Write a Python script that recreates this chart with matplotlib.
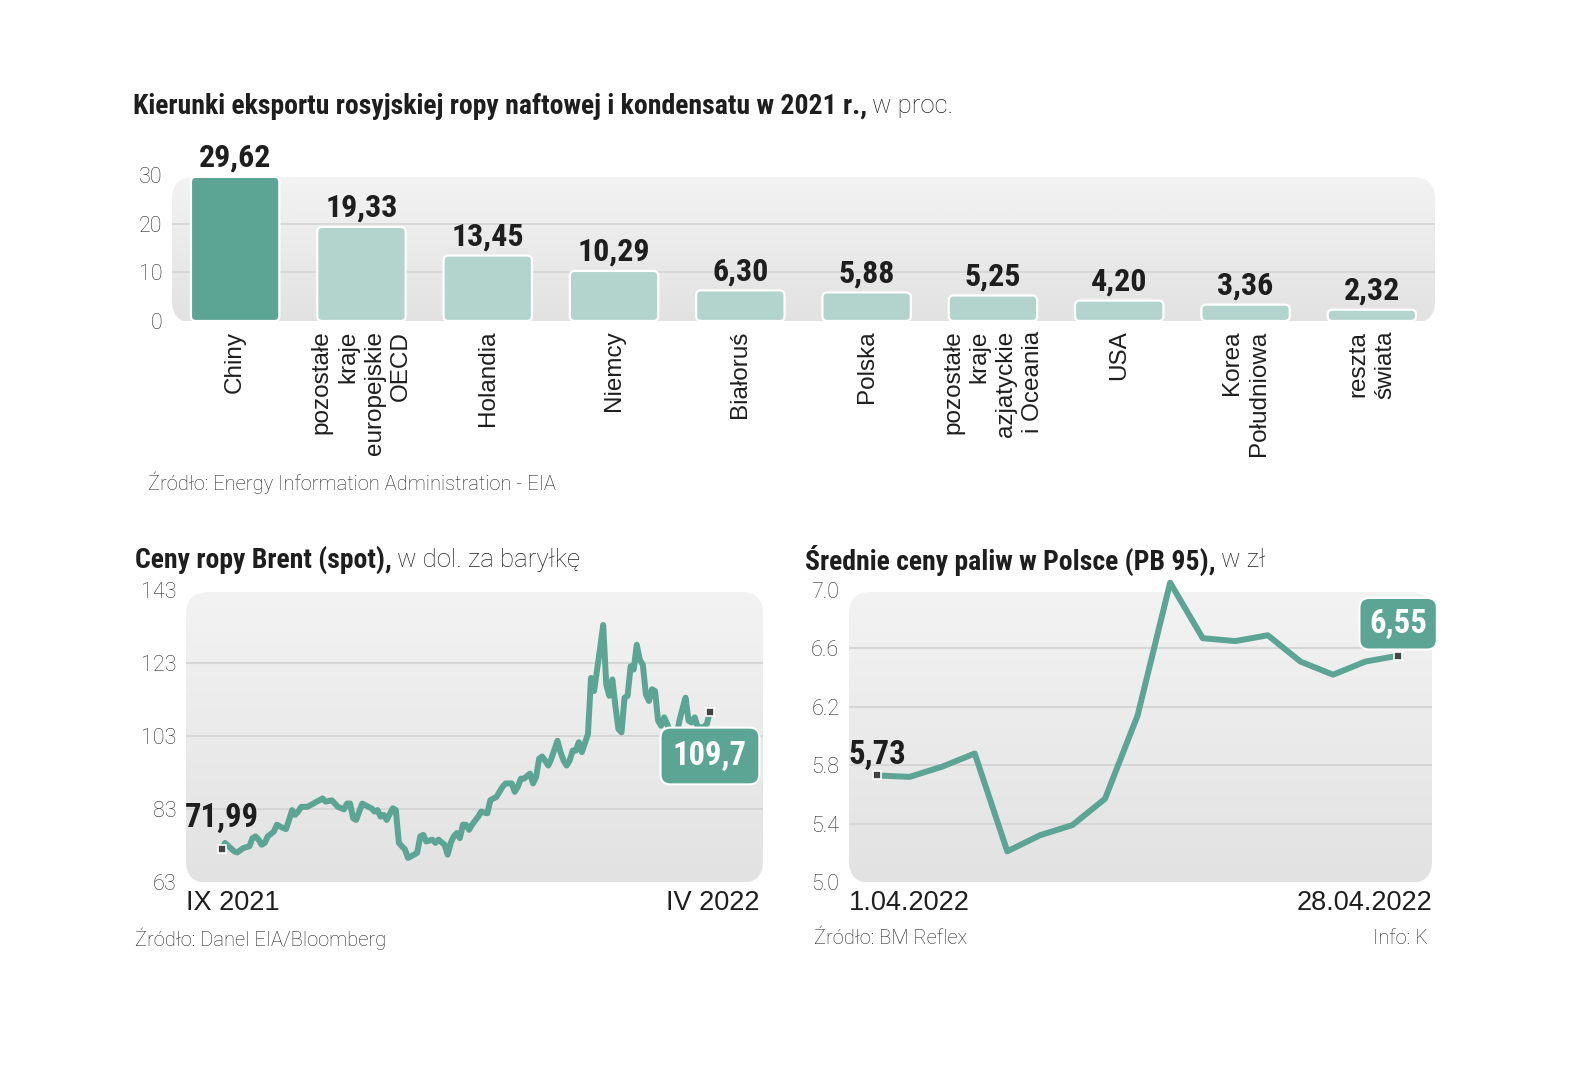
import matplotlib
matplotlib.use("Agg")
import matplotlib.pyplot as plt
import matplotlib.font_manager as fm
from matplotlib.patches import FancyBboxPatch
from matplotlib.transforms import IdentityTransform
import numpy as np

# ---------------- data ----------------
bar_categories = ["Chiny", "pozostałe\nkraje\neuropejskie\nOECD", "Holandia", "Niemcy",
                  "Białoruś", "Polska", "pozostałe\nkraje\nazjatyckie\ni Oceania", "USA",
                  "Korea\nPołudniowa", "reszta\nświata"]
bar_values = [29.62, 19.33, 13.45, 10.29, 6.30, 5.88, 5.25, 4.20, 3.36, 2.32]
bar_labels = ["29,62", "19,33", "13,45", "10,29", "6,30", "5,88", "5,25", "4,20", "3,36", "2,32"]
bar_yticks = [0, 10, 20, 30]

brent_day = [0, 1, 4, 5, 7, 9, 10, 11, 12, 13, 14, 15, 17, 18, 20, 21, 22, 23, 24, 25,
             26, 28, 30, 31, 32, 33, 34, 36, 37, 38, 40, 41, 42, 43, 44, 45, 46, 48, 49, 50,
             51, 52, 53, 54, 56, 57, 58, 60, 61, 63, 64, 65, 66, 67, 69, 70, 71, 73, 74, 75,
             76, 77, 78, 79, 80, 81, 82, 84, 85, 87, 88, 89, 90, 91, 92, 93, 95, 96, 97, 98,
             99, 101, 102, 103, 104, 105, 107, 108, 110, 111, 112, 113, 114, 115, 116, 117, 118, 120, 121, 122,
             124, 125, 126, 127, 128, 129, 130, 131, 132, 133, 134, 135, 136, 137, 138, 139, 140, 141, 142, 143,
             144, 145, 146, 147, 148, 149, 150, 151, 152, 153, 154, 155, 156, 158, 159, 160]
brent_price = [71.99, 73.7, 71.4, 71.1, 72.3, 72.8, 75.0, 75.5, 74.6, 73.2, 73.7, 75.5, 76.8, 78.7, 77.8, 77.5, 80.0, 82.7, 81.4, 82.3,
               83.6, 83.6, 84.5, 85.0, 85.4, 85.9, 85.0, 85.4, 84.5, 83.6, 82.9, 84.5, 84.5, 80.5, 80.0, 82.3, 84.5, 83.6, 83.2, 82.3,
               82.7, 80.9, 81.4, 80.0, 83.2, 82.7, 73.7, 71.9, 69.6, 70.5, 71.0, 75.5, 75.9, 74.1, 74.6, 73.7, 74.6, 73.2, 70.5, 73.7,
               75.5, 76.4, 75.0, 78.7, 78.7, 77.3, 78.7, 80.9, 82.3, 81.8, 85.4, 85.9, 86.3, 87.7, 89.1, 90.0, 90.0, 87.7, 89.1, 91.3,
               91.3, 92.7, 90.0, 91.8, 96.8, 97.4, 94.9, 96.8, 101.7, 98.6, 96.3, 94.9, 96.3, 99.0, 99.0, 101.3, 98.6, 103.5, 118.9, 115.3,
               127.1, 133.4, 117.1, 114.0, 118.5, 111.2, 104.9, 104.0, 113.5, 114.0, 122.1, 121.2, 128.0, 123.9, 122.5, 114.4, 112.6, 115.8, 115.3, 107.2,
               105.8, 108.1, 106.3, 103.5, 101.5, 103.0, 107.2, 110.5, 113.5, 107.2, 106.7, 108.1, 105.4, 105.4, 106.3, 109.7]
brent_yticks = [63, 83, 103, 123, 143]
brent_first_label = "71,99"
brent_last_label = "109,7"
brent_xlabels = ["IX 2021", "IV 2022"]

fuel_price = [5.73, 5.72, 5.79, 5.88, 5.21, 5.32, 5.39, 5.57, 6.14, 7.05, 6.67, 6.65, 6.69, 6.51, 6.42, 6.51, 6.55]
fuel_yticks = [5.0, 5.4, 5.8, 6.2, 6.6, 7.0]
fuel_first_label = "5,73"
fuel_last_label = "6,55"
fuel_xlabels = ["1.04.2022", "28.04.2022"]

# ---------------- fonts ----------------
avail = {f.name for f in fm.fontManager.ttflist}
def pick(cands):
    return [c for c in cands if c in avail] + ["DejaVu Sans"]

COND = pick(["Roboto Condensed", "Liberation Sans Narrow", "DejaVu Sans Condensed"])
REG = pick(["Liberation Sans", "Arial"])
TITLE = pick(["Roboto Condensed", "Liberation Sans Narrow", "Roboto", "Liberation Sans"])
LIGHT = pick(["Roboto", "Lato", "Open Sans"])

TEAL = "#5ca594"
LTEAL = "#b3d4cd"
DARK = "#1e1e1e"
GRID = "#d6d6d6"

W, H = 1585, 1080
fig = plt.figure(figsize=(W / 100, H / 100), dpi=100)
fig.patch.set_facecolor("white")

def px_axes(x0, y0_top, x1, y1_bot):
    return fig.add_axes([x0 / W, 1 - y1_bot / H, (x1 - x0) / W, (y1_bot - y0_top) / H])

def rounded_bg(ax, x0, y_top, x1, y_bot, r=22):
    patch = FancyBboxPatch((x0, H - y_bot), x1 - x0, y_bot - y_top,
                           boxstyle=f"round,pad=0,rounding_size={r}",
                           transform=IdentityTransform(), facecolor="none", edgecolor="none")
    fig.add_artist(patch)
    grad = np.linspace(0, 1, 256).reshape(-1, 1)
    im = ax.imshow(grad, cmap=matplotlib.colors.LinearSegmentedColormap.from_list("g", ["#f3f3f3", "#e2e2e2"]),
                   extent=[0, 1, 0, 1], transform=ax.transAxes, aspect="auto", zorder=0,
                   origin="upper")
    im.set_clip_path(patch)
    im.set_clip_on(True)

def style_axes(ax):
    ax.patch.set_visible(False)
    for s in ax.spines.values():
        s.set_visible(False)
    ax.tick_params(length=0, labelsize=15.5, labelcolor="#2a2a2a", pad=7)
    for lab in ax.get_yticklabels():
        lab.set_family(LIGHT)
        lab.set_fontweight("light")

def title_two(x, y, bold, light, size=20, size2=18.5):
    t = fig.text(x / W, 1 - y / H, bold, fontsize=size, fontweight="bold", family=TITLE,
                 color=DARK, va="center", ha="left")
    fig.canvas.draw()
    bb = t.get_window_extent()
    fig.text((bb.x1 + 5) / W, 1 - y / H, light, fontsize=size2, family=LIGHT, fontweight="light",
             color=DARK, va="center", ha="left")

# ---------------- bar chart ----------------
ax1 = px_axes(172, 175, 1435, 321)
rounded_bg(ax1, 172, 177, 1435, 323)
x = np.arange(len(bar_values))
colors = [TEAL] + [LTEAL] * (len(bar_values) - 1)
bars = ax1.bar(x, bar_values, width=0.70, color=colors, edgecolor="white", linewidth=1.5, zorder=3)
ax1.set_xlim(-0.5, len(bar_values) - 0.5)
ax1.set_ylim(0, 30)
# rounded versions of the bars (same geometry, corner radius ~5 px)
x_per_px = 10 / 1263
y_per_px = 30 / 146
for rect, c in zip(bars, colors):
    rect.set_visible(False)
    fb = FancyBboxPatch((rect.get_x(), rect.get_y()), rect.get_width(), rect.get_height(),
                        boxstyle=f"round,pad=0,rounding_size={5 * x_per_px}",
                        mutation_aspect=y_per_px / x_per_px,
                        facecolor=c, edgecolor="white", linewidth=1.6, zorder=3)
    ax1.add_patch(fb)
ax1.set_yticks(bar_yticks)
ax1.set_xticks([])
for v in [10, 20]:
    ax1.axhline(v, color=GRID, lw=1.3, zorder=1)
style_axes(ax1)
for xi, v, lab in zip(x, bar_values, bar_labels):
    ax1.annotate(lab, (xi, v), xytext=(0, 3), textcoords="offset points", ha="center", va="bottom",
                 fontsize=23, fontweight="bold", family=COND, color=DARK, zorder=5,
                 annotation_clip=False)
for xi, cat in zip(x, bar_categories):
    ax1.annotate(cat, (xi, 0), xytext=(0, -7), textcoords="offset points", rotation=90,
                 ha="center", va="top", multialignment="right", fontsize=17.5, family=REG,
                 color=DARK, linespacing=1.27, annotation_clip=False)

title_two(133, 106, "Kierunki eksportu rosyjskiej ropy naftowej i kondensatu w 2021 r.,", "w proc.")
fig.text(148 / W, 1 - 483 / H, "Źródło: Energy Information Administration - EIA", fontsize=14.5,
         family=LIGHT, fontweight="light", color="#222222", va="center", ha="left")

# ---------------- Brent ----------------
ax2 = px_axes(186, 590, 763, 882)
rounded_bg(ax2, 186, 592, 763, 883)
ax2.set_ylim(63, 143)
ax2.set_xlim(-11.8, 177.4)
ax2.set_yticks(brent_yticks)
ax2.set_xticks([])
for v in brent_yticks[1:-1]:
    ax2.axhline(v, color=GRID, lw=1.5, zorder=1)
style_axes(ax2)
ax2.plot(brent_day, brent_price, color=TEAL, lw=4.3, solid_joinstyle="round", zorder=3, clip_on=False)
ax2.plot([brent_day[0], brent_day[-1]], [brent_price[0], brent_price[-1]], ls="none", marker="s",
         ms=6, mfc="#444444", mec="white", mew=1.2, zorder=4, clip_on=False)
ax2.annotate(brent_first_label, (brent_day[0], brent_price[0]), xytext=(0, 11), textcoords="offset points",
             ha="center", va="bottom", fontsize=23.5, fontweight="bold", family=COND, color=DARK, zorder=5)
ax2.annotate(brent_last_label, (brent_day[-1], brent_price[-1]), xytext=(0, -32), textcoords="offset points",
             ha="center", va="center", fontsize=23.5, fontweight="bold", family=COND, color="white", zorder=6,
             bbox=dict(boxstyle="round,pad=0.38,rounding_size=0.3", fc=TEAL, ec="white", lw=1.5))
title_two(135, 560, "Ceny ropy Brent (spot),", "w dol. za baryłkę")
fig.text(186 / W, 1 - 903 / H, brent_xlabels[0], fontsize=19.5, family=REG, color=DARK, va="center", ha="left")
fig.text(760 / W, 1 - 903 / H, brent_xlabels[1], fontsize=19.5, family=REG, color=DARK, va="center", ha="right")
fig.text(135 / W, 1 - 939 / H, "Źródło: Danel EIA/Bloomberg", fontsize=14.5, family=LIGHT,
         fontweight="light", color="#222222", va="center", ha="left")

# ---------------- fuel ----------------
ax3 = px_axes(849, 590, 1432, 882)
rounded_bg(ax3, 849, 592, 1432, 883)
ax3.set_ylim(5.0, 7.0)
xf = np.arange(len(fuel_price))
ax3.set_xlim(-0.86, len(fuel_price) - 1 + 1.04)
ax3.set_yticks(fuel_yticks)
ax3.set_yticklabels([f"{v:.1f}" for v in fuel_yticks])
ax3.set_xticks([])
for v in fuel_yticks[1:-1]:
    ax3.axhline(v, color=GRID, lw=1.5, zorder=1)
style_axes(ax3)
ax3.plot(xf, fuel_price, color=TEAL, lw=4.3, solid_joinstyle="round", zorder=3, clip_on=False)
ax3.plot([xf[0], xf[-1]], [fuel_price[0], fuel_price[-1]], ls="none", marker="s",
         ms=6, mfc="#444444", mec="white", mew=1.2, zorder=4, clip_on=False)
ax3.annotate(fuel_first_label, (xf[0], fuel_price[0]), xytext=(0, 3), textcoords="offset points",
             ha="center", va="bottom", fontsize=23.5, fontweight="bold", family=COND, color=DARK, zorder=5)
ax3.annotate(fuel_last_label, (xf[-1], fuel_price[-1]), xytext=(0, 23), textcoords="offset points",
             ha="center", va="center", fontsize=23.5, fontweight="bold", family=COND, color="white", zorder=6,
             bbox=dict(boxstyle="round,pad=0.3,rounding_size=0.3", fc=TEAL, ec="white", lw=1.5))
title_two(805, 560, "Średnie ceny paliw w Polsce (PB 95),", "w zł")
fig.text(849 / W, 1 - 903 / H, fuel_xlabels[0], fontsize=19.5, family=REG, color=DARK, va="center", ha="left")
fig.text(1432 / W, 1 - 903 / H, fuel_xlabels[1], fontsize=19.5, family=REG, color=DARK, va="center", ha="right")
fig.text(814 / W, 1 - 939 / H, "Źródło: BM Reflex", fontsize=14.5, family=LIGHT,
         fontweight="light", color="#222222", va="center", ha="left")
fig.text(1428 / W, 1 - 939 / H, "Info: K", fontsize=14.5, family=LIGHT,
         fontweight="light", color="#222222", va="center", ha="right")

fig.savefig("out.png", dpi=100, facecolor="white")
